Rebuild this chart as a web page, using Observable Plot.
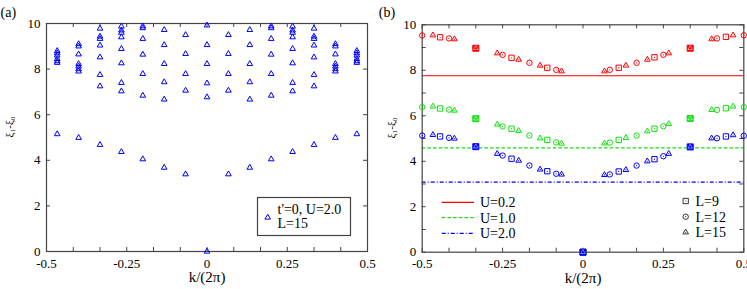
<!DOCTYPE html>
<html><head><meta charset="utf-8">
<script src="https://cdn.jsdelivr.net/npm/d3@7"></script>
<script src="https://cdn.jsdelivr.net/npm/@observablehq/plot@0.6"></script>
<style>
body{margin:0;background:#fff;}
#fig{position:relative;width:747px;height:289px;font-family:"Liberation Serif",serif;}
#fig > svg{position:absolute;top:0;overflow:visible;}
#fig svg, #fig svg text, #fig svg g{font-family:"Liberation Serif",serif !important;}
</style></head><body><div id="fig"></div>
<script>
// ---------- axis ticks ----------
const xMinorTicks = [-6/12,-5/12,-4/12,-3/12,-2/12,-1/12,0,1/12,2/12,3/12,4/12,5/12,6/12];
const xTickLabels = [-0.5,-0.25,0,0.25,0.5];
const yTicksA = [0,2,4,6,8,10];
const yTicksB = [0,1,2,3,4,5,6,7,8,9,10];
const yTickLabels = [0,2,4,6,8,10];

// ---------- panel (a): t'=0, U=2.0, L=15 ----------
const aNum = [-7,-6,-5,-4,-3,-2,-1,0,1,2,3,4,5,6,7];
const aLevels = [
  [8.8,8.7,8.6,8.45,8.35,8.28,5.15],
  [9.1,9.0,8.65,8.23,8.12,8.0,7.9,4.99],
  [9.78,9.43,9.33,9.04,8.52,7.75,7.25,4.68],
  [9.87,9.7,9.6,9.4,8.89,8.26,7.4,7.03,4.37],
  [9.88,9.8,9.33,8.64,7.79,6.84,4.05],
  [9.72,9.06,8.23,7.43,6.67,3.68],
  [9.5,8.67,7.79,7.06,3.39],
  [9.92,9.06,8.23,7.38,6.77,0],
  [9.5,8.67,7.79,7.06,3.39],
  [9.72,9.06,8.23,7.43,6.67,3.68],
  [9.88,9.8,9.33,8.64,7.79,6.84,4.05],
  [9.87,9.7,9.6,9.4,8.89,8.26,7.4,7.03,4.37],
  [9.78,9.43,9.33,9.04,8.52,7.75,7.25,4.68],
  [9.1,9.0,8.65,8.23,8.12,8.0,7.9,4.99],
  [8.8,8.7,8.6,8.45,8.35,8.28,5.15]
];

// ---------- panel (b): lowest excitation, L = 9, 12, 15 ----------
const n9  = [-4,-3,-2,-1,0,1,2,3,4];
const n12 = [-6,-5,-4,-3,-2,-1,0,1,2,3,4,5,6];
const n15 = [-7,-6,-5,-4,-3,-2,-1,0,1,2,3,4,5,6,7];
const red9   = [9.45,8.97,8.55,8.11,0,8.11,8.57,8.97,9.47];
const red12  = [9.53,9.40,8.97,8.68,8.33,8.02,0,8.02,8.33,8.68,8.97,9.40,9.54];
const red15  = [9.54,9.37,8.97,8.75,8.47,8.21,7.96,0,7.96,8.21,8.47,8.75,8.97,9.37,9.54];
const green9  = [6.32,5.87,5.43,4.94,0,4.94,5.43,5.88,6.33];
const green12 = [6.38,6.27,5.87,5.53,5.13,4.83,0,4.82,5.13,5.54,5.88,6.26,6.38];
const green15 = [6.41,6.23,5.87,5.62,5.34,5.01,4.78,0,4.79,5.03,5.32,5.64,5.88,6.26,6.41];
const blue9   = [5.09,4.64,4.11,3.56,0,3.55,4.09,4.63,5.09];
const blue12  = [5.13,5.03,4.64,4.25,3.81,3.45,0,3.42,3.81,4.22,4.63,5.01,5.12];
const blue15  = [5.16,5.0,4.64,4.33,4.03,3.64,3.42,0,3.40,3.62,4.0,4.33,4.63,5.01,5.15];
const uLabels = ["U=0.2","U=1.0","U=2.0"];
const uColors = ["#ff0000","#11e011","#0000ff"];
const uGap    = [7.76,4.59,3.08];   // horizontal reference lines
const uDash   = [null,"3.5,2.2","4,2,1,2"];

// ---------- build tables ----------
const rowsA = aNum.flatMap((n,i)=>aLevels[i].map(e=>({k:n/15,e})));
const seriesB = [[red9,red12,red15],[green9,green12,green15],[blue9,blue12,blue15]];
const nums = [n9,n12,n15], Ls = [9,12,15];
const rowsB = [];
seriesB.forEach((grp,u)=>grp.forEach((vals,j)=>vals.forEach((e,i)=>{
  const n = nums[j][i], L = Ls[j];
  // momenta shared by all three sizes: k = 0 and k = ±1/3
  const shared = (L===9 && n%3===0) || (L===12 && n%4===0) || (L===15 && n%5===0);
  rowsB.push({u, L, k:n/L, e, shared});
})));

const font = "Liberation Serif";
const frameCol = "#444";

// ---------- panel (a) ----------
const WA = 373, HA = 289, mlA = 46, mrA = 6, mtA = 23, mbA = 38;
const pwA = WA-mlA-mrA, phA = HA-mtA-mbA;
const plotA = Plot.plot({
  width: WA, height: HA, marginLeft: mlA, marginRight: mrA, marginTop: mtA, marginBottom: mbA,
  style: {fontFamily: font, fontSize: "13px", background: "transparent", color: "#000"},
  x: {domain: [-0.5,0.5], ticks: xTickLabels, tickSize: 0, tickPadding: 7, tickFormat: d=>String(d), label: null},
  y: {domain: [0,10], ticks: yTickLabels, tickSize: 0, tickPadding: 6, tickFormat: d=>String(d), label: null},
  marks: [
    Plot.tickX(xMinorTicks, {x: d=>d, insetTop: phA-4, stroke: frameCol}),
    Plot.tickX(xMinorTicks, {x: d=>d, insetBottom: phA-4, stroke: frameCol}),
    Plot.tickY(yTicksA, {y: d=>d, insetRight: pwA-4, stroke: frameCol}),
    Plot.tickY(yTicksA, {y: d=>d, insetLeft: pwA-4, stroke: frameCol}),
    Plot.frame({stroke: frameCol, strokeWidth: 1.2}),
    Plot.dot(rowsA, {x: "k", y: "e", symbol: "triangle", r: 2.1, stroke: "#0000ff", strokeWidth: 1, fill: "none"}),
    Plot.text(["ξ₁-ξ₀"], {frameAnchor: "left", dx: -37, rotate: -90, fontSize: 11}),
    Plot.text(["k/(2π)"], {frameAnchor: "bottom", dy: 30.5, fontSize: 15}),
    Plot.text(["(a)"], {frameAnchor: "top-left", dx: -mlA, dy: -16, textAnchor: "start", fontSize: 14})
  ]
});

// ---------- panel (b) ----------
const OB = 373, WB = 374, HB = 289, mlB = 48.7, mrB = 3.7, mtB = 24.3, mbB = 37.3;
const pwB = WB-mlB-mrB, phB = HB-mtB-mbB;
const symMarks = [];
[0,1,2].forEach(u=>{
  const c = uColors[u];
  const sq = rowsB.filter(d=>d.u===u && d.L===9);
  const ci = rowsB.filter(d=>d.u===u && d.L===12);
  const tr = rowsB.filter(d=>d.u===u && d.L===15);
  symMarks.push(
    Plot.dot(sq.filter(d=>!d.shared), {x:"k", y:"e", symbol:"square", r:3, stroke:c, fill:"none", strokeWidth:1}),
    Plot.dot(ci.filter(d=>!d.shared), {x:"k", y:"e", symbol:"circle", r:2.7, stroke:c, fill:"none", strokeWidth:1}),
    Plot.dot(tr.filter(d=>!d.shared), {x:"k", y:"e", symbol:"triangle", r:2.1, stroke:c, fill:"none", strokeWidth:1}),
    Plot.dot(sq.filter(d=>d.shared), {x:"k", y:"e", symbol:"square", r:3.4, stroke:c, fill:c, strokeWidth:1}),
    Plot.dot(tr.filter(d=>d.shared), {x:"k", y:"e", symbol:"triangle", r:1.7, stroke:"#fff", strokeOpacity:0.6, fill:"none", strokeWidth:0.8}),
    Plot.dot(rowsB.filter(d=>d.u===u && !d.shared), {x:"k", y:"e", r:0.6, fill:c})
  );
});
const plotB = Plot.plot({
  width: WB, height: HB, marginLeft: mlB, marginRight: mrB, marginTop: mtB, marginBottom: mbB,
  style: {fontFamily: font, fontSize: "13px", background: "transparent", color: "#000"},
  x: {domain: [-0.5,0.5], ticks: xTickLabels, tickSize: 0, tickPadding: 7, tickFormat: d=>String(d), label: null},
  y: {domain: [0,10], ticks: yTickLabels, tickSize: 0, tickPadding: 6, tickFormat: d=>String(d), label: null},
  marks: [
    Plot.tickX(xMinorTicks, {x: d=>d, insetTop: phB-4, stroke: frameCol}),
    Plot.tickX(xMinorTicks, {x: d=>d, insetBottom: phB-4, stroke: frameCol}),
    Plot.tickY(yTicksB, {y: d=>d, insetRight: pwB-4, stroke: frameCol}),
    Plot.tickY(yTicksB, {y: d=>d, insetLeft: pwB-4, stroke: frameCol}),
    ...uGap.map((g,u)=>Plot.ruleY([g], {stroke: uColors[u], strokeWidth: 1.2, strokeDasharray: uDash[u]})),
    Plot.frame({stroke: frameCol, strokeWidth: 1.2}),
    ...symMarks,
    Plot.text(["ξ₁-ξ₀"], {frameAnchor: "left", dx: -31, rotate: -90, fontSize: 11}),
    Plot.text(["k/(2π)"], {frameAnchor: "bottom", dy: 30.5, fontSize: 15}),
    Plot.text(["(b)"], {frameAnchor: "top-left", dx: -mlB+5.3, dy: -17.3, textAnchor: "start", fontSize: 14})
  ]
});
plotB.style.left = OB + "px";
plotA.style.left = "0px";
const fig = document.getElementById("fig");
fig.appendChild(plotA);
fig.appendChild(plotB);

// ---------- legends (overlay) ----------
const lg = d3.select(fig).append("svg").attr("width",747).attr("height",289)
  .style("left","0px").style("font-family",font).style("font-size","14px");
// legend (a)
lg.append("rect").attr("x",257.5).attr("y",197.5).attr("width",93).attr("height",38)
  .attr("fill","#fff").attr("stroke",frameCol).attr("stroke-width",1.2);
lg.append("path").attr("d",d3.symbol(d3.symbolTriangle, 2.1*2.1*Math.PI)())
  .attr("transform","translate(267.7,217.5)").attr("fill","none").attr("stroke","#0000ff");
lg.append("text").attr("x",277.5).attr("y",214).text("t'=0, U=2.0");
lg.append("text").attr("x",277.5).attr("y",227.5).text("L=15");
// legend (b) lines
const lineY = [202.3,217.7,233.3];
uLabels.forEach((t,u)=>{
  lg.append("line").attr("x1",441.7).attr("x2",474).attr("y1",lineY[u]).attr("y2",lineY[u])
    .attr("stroke",uColors[u]).attr("stroke-width",1.2).attr("stroke-dasharray",uDash[u]);
  lg.append("text").attr("x",480).attr("y",lineY[u]).attr("dy","0.35em").text(t);
});
// legend (b) symbols
const symY = [201,216.7,232.3];
const symDefs = [[d3.symbolSquare,3],[d3.symbolCircle,2.7],[d3.symbolTriangle,2.1]];
["L=9","L=12","L=15"].forEach((t,j)=>{
  const [s,r] = symDefs[j];
  lg.append("path").attr("d",d3.symbol(s, r*r*Math.PI)()).attr("transform",`translate(685.7,${symY[j]})`)
    .attr("fill","none").attr("stroke","#333");
  lg.append("circle").attr("cx",685.7).attr("cy",symY[j]).attr("r",0.6).attr("fill","#333");
  lg.append("text").attr("x",695.5).attr("y",symY[j]).attr("dy","0.35em").text(t);
});
</script>
</body></html>
